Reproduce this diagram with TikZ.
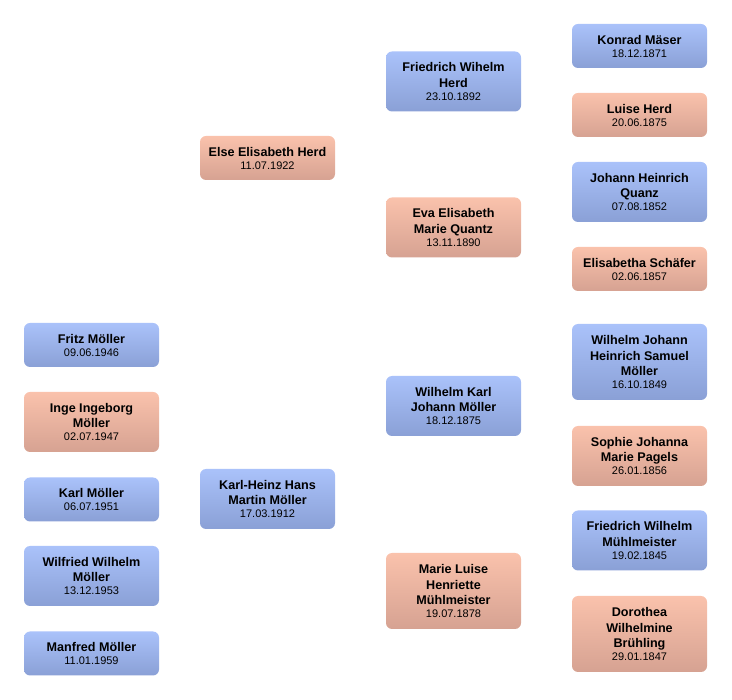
\documentclass[tikz,border=0pt]{standalone}
\usepackage{fontspec}
\setmainfont{Liberation Sans}
\definecolor{btop}{RGB}{170,194,250}
\definecolor{bbot}{RGB}{138,160,214}
\definecolor{ptop}{RGB}{250,194,172}
\definecolor{pbot}{RGB}{214,162,146}
\newcommand{\nm}[1]{{\bfseries #1}}
\newcommand{\dt}[1]{{\fontsize{11}{15}\selectfont #1}}
\tikzset{
  pbox/.style={rectangle, rounded corners=6pt, minimum width=135pt, inner sep=1pt, align=center,
    font=\fontsize{12.6}{15.5}\selectfont},
  male/.style={pbox, top color=btop, bottom color=bbot},
  female/.style={pbox, top color=ptop, bottom color=pbot},
  h2/.style={minimum height=44pt},
  h3/.style={minimum height=60pt},
  h4/.style={minimum height=76pt},
}
\begin{document}
\begin{tikzpicture}[x=1pt,y=-1pt]
\useasboundingbox (0,0) rectangle (732,700);
% column 4
\node[male,h2] (konrad) at (639.5,46) {\nm{Konrad Mäser}\\[-2.5pt]\dt{18.12.1871}};
\node[female,h2] (luise) at (639.5,115) {\nm{Luise Herd}\\[-2.5pt]\dt{20.06.1875}};
\node[male,h3] (johann) at (639.5,192) {\nm{Johann Heinrich}\\\nm{Quanz}\\[-2.5pt]\dt{07.08.1852}};
\node[female,h2] (elisabetha) at (639.5,269) {\nm{Elisabetha Schäfer}\\[-2.5pt]\dt{02.06.1857}};
\node[male,h4] (wjhs) at (639.5,362) {\nm{Wilhelm Johann}\\\nm{Heinrich Samuel}\\\nm{Möller}\\[-2.5pt]\dt{16.10.1849}};
\node[female,h3] (sophie) at (639.5,456) {\nm{Sophie Johanna}\\\nm{Marie Pagels}\\[-2.5pt]\dt{26.01.1856}};
\node[male,h3] (fwm) at (639.5,540.5) {\nm{Friedrich Wilhelm}\\\nm{Mühlmeister}\\[-2.5pt]\dt{19.02.1845}};
\node[female,h4] (dorothea) at (639.5,634) {\nm{Dorothea}\\\nm{Wilhelmine}\\\nm{Brühling}\\[-2.5pt]\dt{29.01.1847}};
% column 3
\node[male,h3] (fwh) at (453.5,81.5) {\nm{Friedrich Wihelm}\\\nm{Herd}\\[-2.5pt]\dt{23.10.1892}};
\node[female,h3] (eva) at (453.5,227.5) {\nm{Eva Elisabeth}\\\nm{Marie Quantz}\\[-2.5pt]\dt{13.11.1890}};
\node[male,h3] (wkj) at (453.5,406) {\nm{Wilhelm Karl}\\\nm{Johann Möller}\\[-2.5pt]\dt{18.12.1875}};
\node[female,h4] (marie) at (453.5,591) {\nm{Marie Luise}\\\nm{Henriette}\\\nm{Mühlmeister}\\[-2.5pt]\dt{19.07.1878}};
% column 2
\node[female,h2] (else) at (267.5,158) {\nm{Else Elisabeth Herd}\\[-2.5pt]\dt{11.07.1922}};
\node[male,h3] (karlheinz) at (267.5,499) {\nm{Karl-Heinz Hans}\\\nm{Martin Möller}\\[-2.5pt]\dt{17.03.1912}};
% column 1
\node[male,h2] (fritz) at (91.5,345) {\nm{Fritz Möller}\\[-2.5pt]\dt{09.06.1946}};
\node[female,h3] (inge) at (91.5,422) {\nm{Inge Ingeborg}\\\nm{Möller}\\[-2.5pt]\dt{02.07.1947}};
\node[male,h2] (karl) at (91.5,499.5) {\nm{Karl Möller}\\[-2.5pt]\dt{06.07.1951}};
\node[male,h3] (wilfried) at (91.5,576) {\nm{Wilfried Wilhelm}\\\nm{Möller}\\[-2.5pt]\dt{13.12.1953}};
\node[male,h2] (manfred) at (91.5,653.5) {\nm{Manfred Möller}\\[-2.5pt]\dt{11.01.1959}};
\end{tikzpicture}
\end{document}
